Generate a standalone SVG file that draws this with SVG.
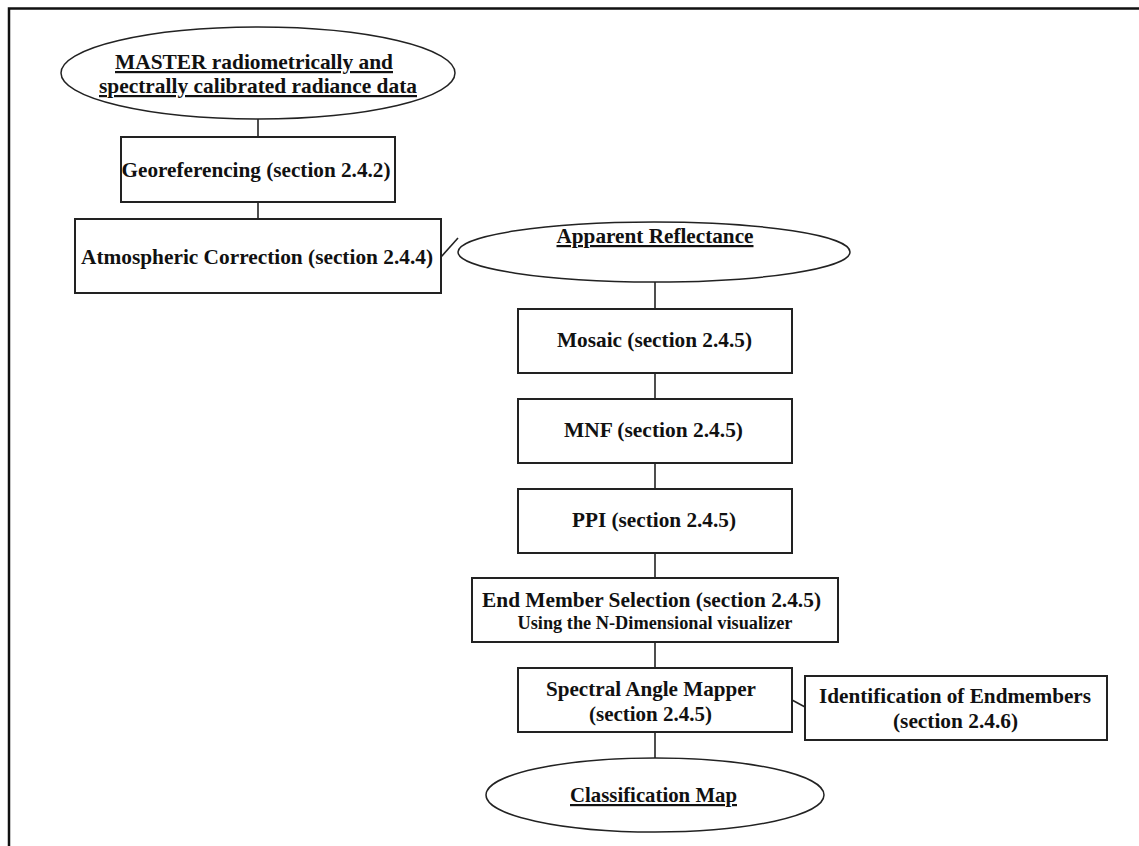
<svg xmlns="http://www.w3.org/2000/svg" width="1139" height="846" viewBox="0 0 1139 846">
<style>
.box{fill:#fff;stroke:#222;stroke-width:2}
.ell{fill:#fff;stroke:#222;stroke-width:1.5}
.con{stroke:#222;stroke-width:1.6;fill:none}
.t{font-family:"Liberation Serif","Times New Roman",serif;font-weight:bold;font-size:22px;fill:#111;text-anchor:middle}
.s{font-size:18px}
.u{text-decoration:underline}
</style>
<rect width="1139" height="846" fill="#fff"/>
<path d="M9,846 V8.5 H1139" fill="none" stroke="#111" stroke-width="2.5"/>
<g id="connectors">
<line class="con" x1="258" y1="119" x2="258" y2="137"/>
<line class="con" x1="258" y1="202" x2="258" y2="219"/>
<line class="con" x1="441" y1="257" x2="458" y2="238"/>
<line class="con" x1="655" y1="282" x2="655" y2="309"/>
<line class="con" x1="655" y1="373" x2="655" y2="399"/>
<line class="con" x1="655" y1="463" x2="655" y2="489"/>
<line class="con" x1="655" y1="553" x2="655" y2="578"/>
<line class="con" x1="655" y1="642" x2="655" y2="668"/>
<line class="con" x1="655" y1="732" x2="655" y2="758"/>
<line class="con" x1="792" y1="700" x2="805" y2="707"/>
</g>
<g id="master">
<ellipse class="ell" cx="258" cy="73" rx="197" ry="46"/>
<text class="t u" x="254" y="69" textLength="278" lengthAdjust="spacingAndGlyphs">MASTER radiometrically and</text>
<text class="t u" x="258" y="93" textLength="318" lengthAdjust="spacingAndGlyphs">spectrally calibrated radiance data</text>
</g>
<g id="georef">
<rect class="box" x="121" y="137" width="274" height="65"/>
<text class="t" x="256" y="177" textLength="269" lengthAdjust="spacingAndGlyphs">Georeferencing (section 2.4.2)</text>
</g>
<g id="atmos">
<rect class="box" x="75" y="219" width="366" height="74"/>
<text class="t" x="257" y="264" textLength="352" lengthAdjust="spacingAndGlyphs">Atmospheric Correction (section 2.4.4)</text>
</g>
<g id="apparent">
<ellipse class="ell" cx="654" cy="252" rx="196" ry="30"/>
<text class="t u" x="655" y="243" textLength="197" lengthAdjust="spacingAndGlyphs">Apparent Reflectance</text>
</g>
<g id="mosaic">
<rect class="box" x="518" y="309" width="274" height="64"/>
<text class="t" x="654.5" y="347" textLength="195" lengthAdjust="spacingAndGlyphs">Mosaic (section 2.4.5)</text>
</g>
<g id="mnf">
<rect class="box" x="518" y="399" width="274" height="64"/>
<text class="t" x="653.5" y="437" textLength="179" lengthAdjust="spacingAndGlyphs">MNF (section 2.4.5)</text>
</g>
<g id="ppi">
<rect class="box" x="518" y="489" width="274" height="64"/>
<text class="t" x="654" y="527" textLength="164" lengthAdjust="spacingAndGlyphs">PPI (section 2.4.5)</text>
</g>
<g id="endmember">
<rect class="box" x="472" y="578" width="366" height="64"/>
<text class="t" x="651.5" y="607" textLength="339" lengthAdjust="spacingAndGlyphs">End Member Selection (section 2.4.5)</text>
<text class="t s" x="655" y="629" textLength="275" lengthAdjust="spacingAndGlyphs">Using the N-Dimensional visualizer</text>
</g>
<g id="sam">
<rect class="box" x="518" y="668" width="274" height="64"/>
<text class="t" x="651" y="696" textLength="210" lengthAdjust="spacingAndGlyphs">Spectral Angle Mapper</text>
<text class="t" x="650.5" y="721" textLength="123" lengthAdjust="spacingAndGlyphs">(section 2.4.5)</text>
</g>
<g id="ident">
<rect class="box" x="805" y="676" width="302" height="64"/>
<text class="t" x="955" y="703" textLength="272" lengthAdjust="spacingAndGlyphs">Identification of Endmembers</text>
<text class="t" x="955.5" y="728" textLength="125" lengthAdjust="spacingAndGlyphs">(section 2.4.6)</text>
</g>
<g id="classmap">
<ellipse class="ell" cx="655" cy="795" rx="169" ry="37"/>
<text class="t u" x="653.5" y="802" textLength="167" lengthAdjust="spacingAndGlyphs">Classification Map</text>
</g>
</svg>
